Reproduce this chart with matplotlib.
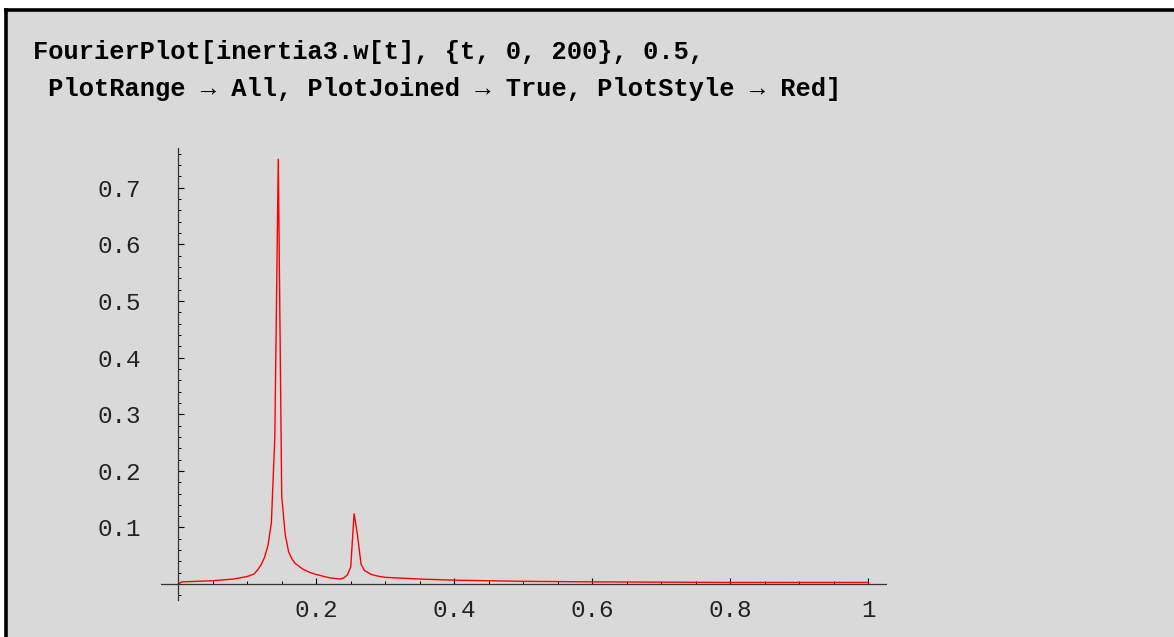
import matplotlib.pyplot as plt
from matplotlib.patches import Rectangle
from matplotlib.ticker import MultipleLocator

# Spectrum (frequency, amplitude)
freq = [0.0, 0.005, 0.05, 0.08, 0.1, 0.11, 0.115, 0.12, 0.125, 0.13,
        0.135, 0.14, 0.145, 0.15, 0.155, 0.16, 0.165, 0.17, 0.18, 0.19,
        0.2, 0.21, 0.22, 0.235, 0.24, 0.245, 0.25, 0.255, 0.26, 0.265,
        0.27, 0.28, 0.29, 0.3, 0.35, 0.4, 0.5, 0.6, 0.7, 0.8, 0.9, 1.0]
amp = [0.0, 0.004, 0.006, 0.009, 0.0135, 0.018, 0.025, 0.034, 0.047, 0.068,
       0.108, 0.26, 0.751, 0.155, 0.088, 0.057, 0.044, 0.036, 0.027, 0.021,
       0.017, 0.014, 0.011, 0.009, 0.011, 0.016, 0.03, 0.125, 0.085, 0.035,
       0.024, 0.017, 0.014, 0.012, 0.009, 0.007, 0.005, 0.004, 0.0035, 0.003,
       0.003, 0.003]

x_ticks = [0.2, 0.4, 0.6, 0.8, 1.0]
x_labels = ['0.2', '0.4', '0.6', '0.8', '1']
y_ticks = [0.1, 0.2, 0.3, 0.4, 0.5, 0.6, 0.7]
y_labels = ['0.1', '0.2', '0.3', '0.4', '0.5', '0.6', '0.7']

line1 = 'FourierPlot[inertia3.w[t], {t, 0, 200}, 0.5,'
line2 = ' PlotRange \u2192 All, PlotJoined \u2192 True, PlotStyle \u2192 Red]'

W, H = 1174, 637
bg = '#d9d9d9'
mono = ['Liberation Mono', 'DejaVu Sans Mono']

fig = plt.figure(figsize=(W / 100, H / 100), dpi=100, facecolor='white')

# notebook cell background with black top / left border
fig.patches.append(Rectangle((5.5 / W, 0), 1, (H - 9.5) / H,
                             transform=fig.transFigure, facecolor=bg,
                             edgecolor='none', zorder=-5))
fig.add_artist(plt.Line2D([5.5 / W, 1], [(H - 9.5) / H] * 2,
                          transform=fig.transFigure, color='black', lw=2.6))
fig.add_artist(plt.Line2D([5.5 / W] * 2, [0, (H - 9.5) / H],
                          transform=fig.transFigure, color='black', lw=2.6))

fig.text(33 / W, 1 - 59 / H, line1, family=mono, fontweight='bold',
         fontsize=18.3, va='baseline', ha='left', color='black')
fig.text(33 / W, 1 - 96 / H, line2, family=mono, fontweight='bold',
         fontsize=18.3, va='baseline', ha='left', color='black')

ax = fig.add_axes([161 / W, 37 / H, (886 - 161) / W, (600 - 148) / H])
ax.set_facecolor('none')
ax.plot(freq, amp, color='red', lw=1.0, solid_joinstyle='miter')
ax.set_xlim(-0.025, 1.026)
ax.set_ylim(-0.028, 0.77)

for s in ['top', 'right']:
    ax.spines[s].set_visible(False)
for s in ['left', 'bottom']:
    ax.spines[s].set_position(('data', 0))
    ax.spines[s].set_color('#333333')
    ax.spines[s].set_linewidth(0.9)
ax.spines['left'].set_bounds(-0.028, 0.77)
ax.spines['bottom'].set_bounds(-0.025, 1.026)

ax.set_xticks(x_ticks)
ax.set_xticklabels(x_labels)
ax.set_yticks(y_ticks)
ax.set_yticklabels(y_labels)
ax.xaxis.set_minor_locator(MultipleLocator(0.05))
ax.yaxis.set_minor_locator(MultipleLocator(0.02))
ax.tick_params(which='major', direction='in', length=4.5, width=0.8,
               color='black', labelsize=17.5, labelcolor='#222222')
ax.tick_params(which='minor', direction='in', length=2.5, width=0.7,
               color='black')
ax.tick_params(axis='x', which='major', pad=11)
ax.tick_params(axis='y', which='major', pad=27)
for lab in ax.get_xticklabels() + ax.get_yticklabels():
    lab.set_family(mono)

fig.savefig('out.png', dpi=100, facecolor='white')
